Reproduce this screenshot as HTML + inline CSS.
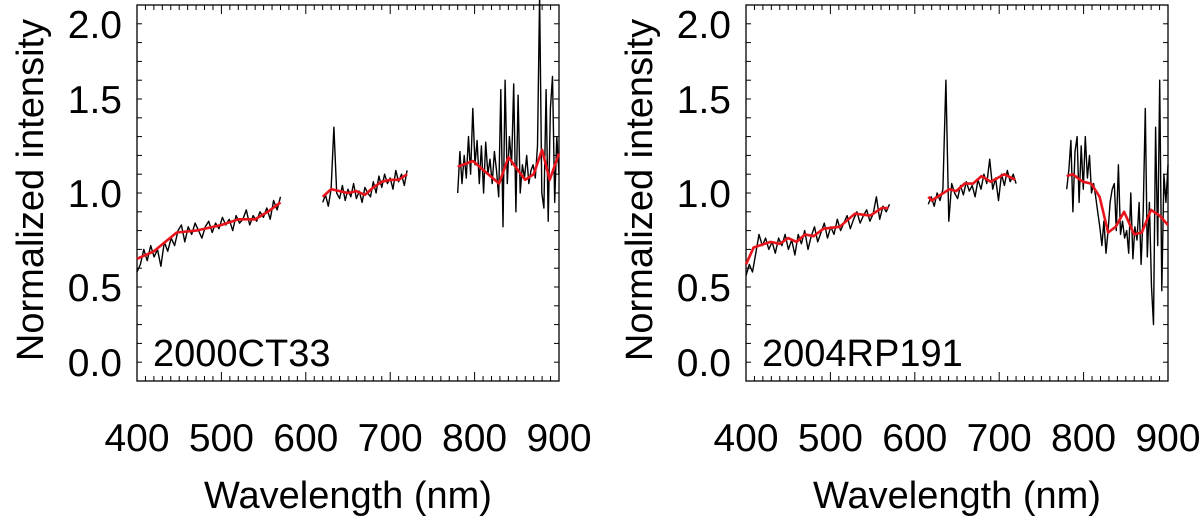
<!DOCTYPE html>
<html><head><meta charset="utf-8"><style>
html,body{margin:0;padding:0;background:#fff;}
svg text{font-family:"Liberation Sans",Arial,sans-serif;fill:#000;}
</style></head><body>
<svg id="chart" width="1200" height="520" viewBox="0 0 1200 520" xmlns="http://www.w3.org/2000/svg"></svg>
<script>
const xTickValues=[400,500,600,700,800,900];
const yTickValues=[0.0,0.5,1.0,1.5,2.0];
const yTickLabels=["0.0","0.5","1.0","1.5","2.0"];
const panelNames=["2000CT33","2004RP191"];
// Panel 1 (2000CT33) smoothed spectrum (red): [nm, value]
const p1RedSeg1=[[400,.65],[420,.69],[447,.79],[470,.80],[500,.83],[520,.86],[540,.86],[555,.90],[570,.95]];
const p1RedSeg2=[[620,.98],[630,1.02],[650,1.00],[660,1.01],[670,.99],[680,1.03],[690,1.06],[700,1.07],[710,1.07],[720,1.10]];
const p1RedSeg3=[[780,1.14],[798,1.17],[829,1.05],[840,1.19],[860,1.07],[870,1.10],[880,1.23],[889,1.07],[900,1.21]];
// Panel 1 raw spectrum (black), evenly spaced within each range
const p1RawRanges=[[400,570],[620,720],[780,900]];
const p1RawSeg1=[.58,.62,.70,.64,.72,.66,.70,.61,.74,.69,.76,.72,.80,.83,.74,.82,.78,.84,.80,.76,.82,.85,.79,.84,.81,.87,.83,.86,.80,.88,.84,.86,.91,.83,.88,.85,.90,.87,.92,.86,.96,.91,.98];
const p1RawSeg2=[.95,.99,.93,1.02,1.35,1.00,.97,1.04,.96,1.02,.98,1.05,.97,1.01,.95,1.03,1.00,.98,1.06,1.00,1.09,1.03,1.10,1.05,1.08,1.02,1.12,1.06,1.10,1.04,1.12];
const p1RawSeg3=[1.0,1.22,1.05,1.20,1.08,1.30,1.10,1.45,1.15,1.28,1.05,1.25,1.00,1.27,1.10,1.18,1.05,1.22,1.12,0.98,1.55,0.82,1.60,1.05,1.30,1.15,1.58,0.90,1.52,1.00,1.15,1.08,1.20,1.05,1.12,1.15,1.08,1.25,2.05,1.0,0.92,1.55,0.85,1.45,1.62,0.95,1.30,1.10];
// Panel 2 (2004RP191)
const p2RedSeg1=[[400,.62],[409,.71],[429,.74],[440,.73],[450,.76],[460,.74],[470,.78],[480,.77],[492,.81],[511,.82],[529,.89],[547,.88],[561,.92],[569,.92]];
const p2RedSeg2=[[616,.98],[620,.96],[641,1.02],[649,1.01],[659,1.05],[669,1.05],[679,1.09],[690,1.06],[706,1.10],[719,1.07]];
const p2RedSeg3=[[780,1.09],[787,1.10],[799,1.06],[809,1.05],[819,.98],[829,.79],[838,.82],[848,.90],[860,.78],[869,.79],[880,.91],[890,.88],[900,.83]];
const p2RawRanges=[[400,570],[616,720],[780,900]];
const p2RawSeg1=[.56,.62,.58,.68,.78,.72,.76,.70,.74,.68,.76,.72,.78,.70,.75,.67,.78,.73,.80,.70,.77,.82,.74,.79,.84,.76,.82,.78,.86,.80,.84,.88,.81,.86,.90,.84,.88,.91,.85,.89,.98,.86,.93,.90,.94];
const p2RawSeg2=[.94,.98,.93,1.0,.96,1.02,1.60,.85,1.05,1.0,.97,1.04,.99,1.06,1.01,1.04,.98,1.07,1.02,1.10,1.05,1.18,1.02,1.08,.96,1.10,1.04,1.12,1.06,1.10,1.05];
const p2RawSeg3=[1.02,1.12,1.28,.90,1.22,1.30,.95,1.25,1.02,1.30,1.08,1.20,1.0,1.05,.98,.90,.82,.72,.85,.68,.80,.95,1.02,1.05,.80,1.15,.78,.85,.76,.80,.68,1.00,.65,.82,.75,.95,.62,.90,1.45,.66,.95,.50,.30,1.35,.72,1.60,.48,1.10,.95,1.15];

const NS="http://www.w3.org/2000/svg";
const svg=document.getElementById('chart');
function mk(tag,attrs,parent){const e=document.createElementNS(NS,tag);for(const k in attrs)e.setAttribute(k,attrs[k]);(parent||svg).appendChild(e);return e;}

function drawPanel(idx,left,right,reds,raws,ranges){
  const top=5,bottom=381;
  const xS=v=>left+(v-400)/500*(right-left);
  const yS=v=>bottom-(v-0.0)/2.0*(bottom-top);
  const g=mk('g',{});
  
  
  const frame=mk('rect',{x:left,y:top,width:right-left,height:bottom-top,fill:'none',stroke:'#000','stroke-width':1.3},g);
  
  
  for(let v=400;v<=900;v+=10){
    const x=xS(v);const L=(v%100===0)?9:5;
    mk('line',{x1:x,y1:bottom,x2:x,y2:bottom-L,stroke:'#000','stroke-width':1},g);
    mk('line',{x1:x,y1:top,x2:x,y2:top+L,stroke:'#000','stroke-width':1},g);
  }
  for(let k=1;k<20;k++){
    const y=yS(k*0.1);
    mk('line',{x1:left,y1:y,x2:left+5,y2:y,stroke:'#000','stroke-width':1},g);
    mk('line',{x1:right,y1:y,x2:right-5,y2:y,stroke:'#000','stroke-width':1},g);
  }
  xTickValues.forEach(v=>{
    const t=mk('text',{x:xS(v),y:451,'font-size':39,'text-anchor':'middle'},g);
    t.textContent=v;
    
    
  });
  yTickValues.forEach((v,i)=>{
    const vv=Math.min(Math.max(v,0.1),1.9);
    const t=mk('text',{x:left-15,y:yS(vv)+14,'font-size':39,'text-anchor':'end'},g);
    t.textContent=yTickLabels[i];
    
    
  });
  const xt=mk('text',{x:(left+right)/2,y:508,'font-size':38,'text-anchor':'middle'},g);
  xt.textContent='Wavelength (nm)';
  
  
  const yt=mk('text',{x:0,y:0,'font-size':38,'text-anchor':'middle',transform:`translate(${left-94},190) rotate(-90)`},g);
  yt.textContent='Normalized intensity';
  
  
  const nm=mk('text',{x:left+16,y:366,'font-size':38},g);
  nm.textContent=panelNames[idx];
  
  
  raws.forEach((seg,si)=>{
    const [a,b]=ranges[si];
    const pts=seg.map((v,i)=>xS(a+(b-a)*i/(seg.length-1)).toFixed(1)+','+yS(v).toFixed(1)).join(' ');
    const pl=mk('polyline',{points:pts,fill:'none',stroke:'#000','stroke-width':1.4,'stroke-linejoin':'round'},g);
    
    
  });
  reds.forEach(seg=>{
    const pts=seg.map(p=>xS(p[0]).toFixed(1)+','+yS(p[1]).toFixed(1)).join(' ');
    const pl=mk('polyline',{points:pts,fill:'none',stroke:'#e8141c','stroke-width':2.6,'stroke-linejoin':'round'},g);
    
    
  });
}
drawPanel(0,137,559,[p1RedSeg1,p1RedSeg2,p1RedSeg3],[p1RawSeg1,p1RawSeg2,p1RawSeg3],p1RawRanges);
drawPanel(1,746,1168,[p2RedSeg1,p2RedSeg2,p2RedSeg3],[p2RawSeg1,p2RawSeg2,p2RawSeg3],p2RawRanges);
</script>
</body></html>
